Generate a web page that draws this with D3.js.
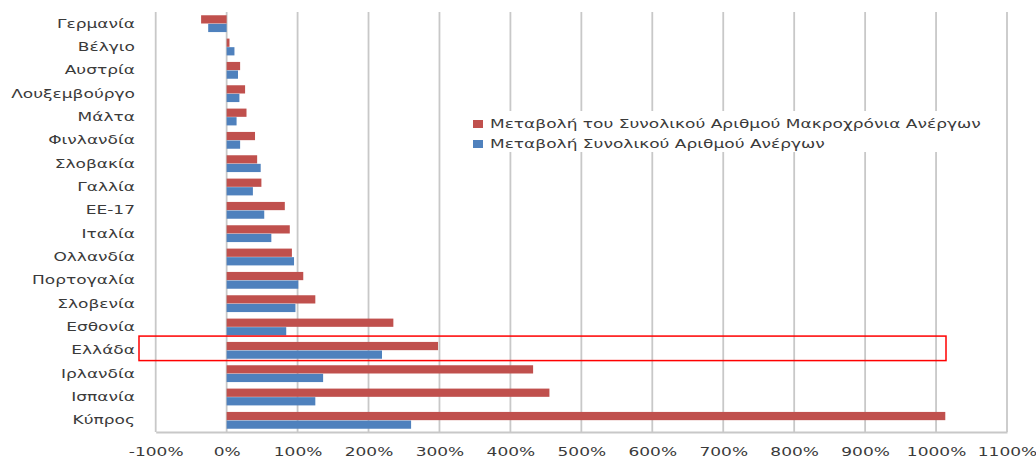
<!DOCTYPE html>
<html lang="el">
<head>
<meta charset="UTF-8">
<title>Μεταβολή Ανέργων</title>
<style>
    body { margin: 0; background: #fff; }
    svg { display: block; font-family: "DejaVu Sans", sans-serif; }
</style>
</head>
<body>
<div id="chart"></div>
<script src="https://d3js.org/d3.v7.min.js"></script>
<script>
    // κατηγορίες (από πάνω προς τα κάτω)
    const countries = ["Γερμανία", "Βέλγιο", "Αυστρία", "Λουξεμβούργο", "Μάλτα", "Φινλανδία",
        "Σλοβακία", "Γαλλία", "ΕΕ-17", "Ιταλία", "Ολλανδία", "Πορτογαλία", "Σλοβενία",
        "Εσθονία", "Ελλάδα", "Ιρλανδία", "Ισπανία", "Κύπρος"];
    // μεταβολή μακροχρόνια ανέργων (%)
    const longTerm = [-36, 4, 19, 26, 28, 40, 43, 49, 82, 89, 92, 108, 125, 235, 298, 432, 455, 1013];
    // μεταβολή συνολικού αριθμού ανέργων (%)
    const total = [-26, 11, 16, 18, 14, 19, 48, 37, 53, 63, 95, 101, 97, 84, 219, 136, 125, 260];
    const ticks = [-100, 0, 100, 200, 300, 400, 500, 600, 700, 800, 900, 1000, 1100];
    const seriesNames = ["Μεταβολή του Συνολικού Αριθμού Μακροχρόνια Ανέργων",
        "Μεταβολή Συνολικού Αριθμού Ανέργων"];
    const colors = ["#C0504D", "#4F81BD"];

    const width = 1036, height = 459;
    const fontSize = 11.5;
    const textColor = "#3a3a3a";
    const stretch = "scale(1.48,1)"; // το πρωτότυπο είναι τεντωμένο οριζόντια
    const svg = d3.select("#chart").append("svg")
        .attr("width", width)
        .attr("height", height);

    const x = d3.scaleLinear().domain([-100, 1100]).range([155.7, 1007]);
    const y = d3.scaleBand().domain(countries).range([12, 432])
        .paddingInner(0.25).paddingOuter(0.125);
    const sub = d3.scaleBand().domain([0, 1]).range([0, y.bandwidth()]).padding(0.04);

    // πλέγμα
    svg.append("g").selectAll("line")
        .data(ticks)
        .join("line")
        .attr("x1", d => x(d)).attr("x2", d => x(d))
        .attr("y1", 12).attr("y2", 432)
        .attr("stroke", "#c8c8c8")
        .attr("stroke-width", 1.8);

    // άξονας x
    const xAxis = svg.append("g")
        .attr("transform", "translate(0,432)")
        .call(d3.axisBottom(x).tickValues(ticks).tickSize(0).tickFormat(d => d + "%"));
    xAxis.select(".domain").attr("stroke", "#c8c8c8").attr("stroke-width", 1.8);
    xAxis.selectAll("text")
        .attr("dy", 0).attr("y", 24.5)
        .attr("transform", stretch)
        .attr("font-size", fontSize)
        .attr("font-family", "DejaVu Sans")
        .attr("fill", textColor);

    // άξονας y (ετικέτες)
    svg.append("g").selectAll("g")
        .data(countries)
        .join("g")
        .attr("transform", d => `translate(135,${y(d) + y.bandwidth() / 2})`)
        .append("text")
        .attr("transform", stretch)
        .attr("dy", "0.35em")
        .attr("text-anchor", "end")
        .attr("font-size", fontSize)
        .attr("fill", textColor)
        .text(d => d);

    // ράβδοι
    [longTerm, total].forEach((vals, s) => {
        svg.append("g").selectAll("rect")
            .data(vals)
            .join("rect")
            .attr("x", d => x(Math.min(0, d)))
            .attr("width", d => Math.abs(x(d) - x(0)))
            .attr("y", (d, i) => y(countries[i]) + sub(s))
            .attr("height", sub.bandwidth())
            .attr("fill", colors[s]);
    });

    // υπόμνημα
    const legend = svg.append("g").attr("transform", "translate(473,124)");
    legend.append("rect")
        .attr("x", -5).attr("y", -13)
        .attr("width", 512).attr("height", 41)
        .attr("fill", "#fff");
    seriesNames.forEach((name, i) => {
        const row = legend.append("g").attr("transform", `translate(0,${i * 20})`);
        row.append("rect")
            .attr("x", 0).attr("y", -4)
            .attr("width", 10).attr("height", 8)
            .attr("fill", colors[i]);
        row.append("text")
            .attr("transform", "translate(17,0) " + stretch)
            .attr("dy", "0.35em")
            .attr("font-size", fontSize)
            .attr("fill", textColor)
            .text(name);
    });

    // πλαίσιο για την Ελλάδα
    svg.append("rect")
        .attr("x", 139)
        .attr("y", y("Ελλάδα") - 5.5)
        .attr("width", 807)
        .attr("height", 24.5)
        .attr("fill", "none")
        .attr("stroke", "#ff0000")
        .attr("stroke-width", 1.5);
</script>
</body>
</html>
